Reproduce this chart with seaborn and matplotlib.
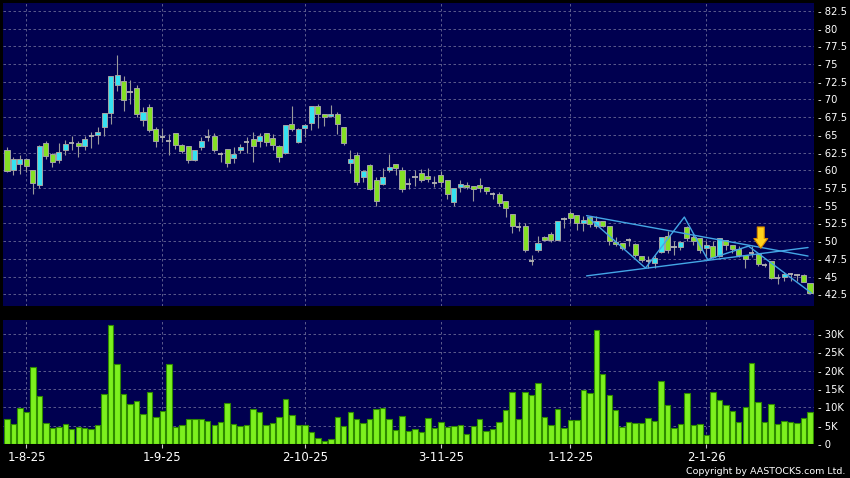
import numpy as np
import pandas as pd
import seaborn as sns
import matplotlib
matplotlib.use("Agg")
import matplotlib.pyplot as plt

# --- Data (volume in thousands of shares) ---
opens = [62.9, 60.1, 60.9, 61.6, 60.0, 57.9, 63.9, 62.3, 61.4, 62.8,
         63.8, 63.8, 63.4, 64.9, 65.0, 66.1, 68.1, 72.1, 72.6, 71.05,
         71.6, 67.1, 68.9, 65.8, 64.75, 64.1, 65.2, 63.6, 63.4, 61.5,
         63.3, 64.75, 64.9, 62.3, 63.0, 61.7, 62.9, 63.95, 64.4, 64.1,
         65.2, 64.5, 63.4, 62.4, 66.5, 64.05, 65.9, 66.6, 69.0, 67.9,
         67.6, 68.0, 66.1, 61.0, 62.2, 59.0, 60.7, 58.6, 58.05, 60.1,
         60.9, 60.0, 58.1, 59.1, 59.6, 59.2, 58.15, 59.4, 58.6, 55.5,
         57.6, 57.95, 57.75, 57.9, 57.7, 56.7, 56.6, 55.7, 53.8, 52.0,
         52.2, 47.2, 48.7, 50.6, 51.05, 50.2, 53.1, 53.95, 53.65, 52.55,
         53.4, 52.1, 52.8, 52.1, 49.9, 49.75, 50.1, 49.65, 47.9, 47.2,
         46.95, 48.5, 50.7, 49.2, 49.2, 51.95, 50.6, 50.45, 49.05, 49.3,
         47.9, 50.1, 49.45, 48.95, 48.0, 48.35, 48.2, 46.65, 47.2, 44.75,
         44.95, 45.3, 45.2, 45.2, 44.05]
highs = [63.3, 61.9, 62.1, 61.7, 60.0, 63.5, 64.2, 62.4, 63.9, 64.3,
         64.9, 64.2, 64.9, 65.35, 66.05, 68.1, 73.3, 76.2, 73.3, 72.8,
         72.0, 68.9, 69.3, 66.05, 65.95, 65.1, 65.3, 63.7, 63.4, 62.9,
         64.65, 65.8, 65.3, 62.6, 63.0, 63.3, 63.7, 64.75, 65.45, 65.2,
         65.2, 65.1, 63.5, 66.4, 69.1, 66.0, 66.5, 69.1, 69.3, 68.0,
         69.2, 68.2, 66.1, 62.9, 62.55, 60.0, 60.9, 59.0, 60.3, 62.3,
         60.9, 60.4, 58.9, 60.0, 60.2, 60.3, 59.2, 59.9, 58.6, 57.5,
         58.6, 58.3, 57.8, 58.9, 57.7, 56.9, 56.9, 55.7, 53.8, 52.7,
         52.6, 48.0, 50.7, 50.7, 51.3, 52.9, 53.4, 54.2, 53.7, 53.5,
         53.4, 53.6, 52.9, 52.1, 50.6, 49.8, 50.5, 49.7, 47.95, 47.9,
         48.1, 50.6, 51.4, 50.0, 50.0, 52.1, 51.15, 50.5, 50.0, 50.0,
         50.5, 50.1, 49.5, 49.3, 48.0, 49.3, 48.25, 46.9, 47.2, 45.3,
         45.6, 45.5, 45.3, 45.3, 44.1]
lows = [59.7, 59.3, 59.5, 59.7, 56.7, 57.5, 61.6, 60.5, 61.0, 62.1,
        62.8, 61.9, 62.8, 63.15, 63.7, 64.9, 66.5, 71.2, 68.4, 69.3,
        67.55, 66.3, 65.35, 63.3, 63.95, 62.1, 63.0, 62.4, 61.0, 61.3,
        62.8, 64.2, 62.6, 61.1, 60.4, 61.0, 62.5, 62.4, 61.2, 63.3,
        63.4, 62.9, 61.2, 62.3, 65.5, 63.9, 64.75, 65.7, 65.9, 66.3,
        67.5, 65.1, 63.5, 59.6, 57.95, 58.3, 57.25, 54.9, 57.95, 59.7,
        59.4, 56.9, 57.3, 57.8, 58.4, 58.4, 57.6, 57.6, 56.0, 54.9,
        56.9, 57.4, 55.6, 57.0, 56.7, 56.0, 55.0, 53.4, 51.1, 51.5,
        48.4, 46.6, 48.5, 50.0, 49.9, 50.1, 51.9, 52.5, 51.6, 51.5,
        52.0, 51.9, 52.0, 49.5, 49.3, 48.8, 49.3, 47.8, 47.05, 46.2,
        46.2, 48.35, 48.35, 48.0, 48.8, 50.0, 49.5, 48.35, 47.9, 47.65,
        47.8, 48.7, 48.35, 47.8, 46.25, 47.8, 46.5, 46.4, 44.6, 43.9,
        44.4, 44.4, 44.4, 44.2, 42.7]
closes = [59.9, 61.6, 61.6, 60.6, 58.2, 63.4, 62.0, 61.1, 62.6, 63.7,
          63.8, 63.4, 64.4, 64.9, 65.45, 68.1, 73.3, 73.4, 69.9, 71.05,
          67.9, 68.25, 65.7, 64.1, 64.75, 64.1, 63.5, 62.7, 61.4, 62.8,
          64.2, 64.75, 62.8, 62.3, 61.0, 62.3, 63.3, 63.95, 63.4, 64.9,
          64.05, 63.5, 61.9, 66.4, 65.8, 65.8, 66.4, 69.06, 67.9, 67.5,
          67.9, 66.5, 63.8, 61.6, 58.3, 59.9, 57.4, 55.7, 59.1, 60.4,
          60.3, 57.4, 58.1, 59.1, 58.6, 58.7, 58.15, 58.4, 56.7, 57.45,
          58.1, 57.6, 57.4, 57.5, 57.05, 56.7, 55.35, 54.7, 52.1, 52.0,
          48.8, 47.2, 49.75, 50.2, 50.1, 52.8, 53.1, 53.25, 52.5, 53.0,
          52.4, 52.8, 52.2, 50.0, 49.55, 49.05, 50.1, 48.1, 47.3, 47.2,
          47.65, 50.55, 48.75, 49.2, 49.9, 50.4, 50.0, 48.7, 49.5, 47.8,
          50.45, 49.45, 48.85, 48.05, 47.55, 48.35, 46.75, 46.65, 44.75, 44.75,
          45.4, 45.3, 45.2, 44.3, 42.75]
volumes_k = [6.75, 5.4, 9.9, 8.8, 20.9, 13.2, 5.8, 4.3, 4.5, 5.4,
             4.0, 4.7, 4.3, 4.0, 5.2, 13.7, 32.4, 21.9, 13.7, 10.9,
             11.6, 8.3, 14.1, 7.3, 9.1, 21.9, 4.65, 5.1, 6.7, 6.7,
             6.9, 6.3, 5.1, 6.1, 11.1, 5.5, 4.9, 5.3, 9.5, 8.85,
             5.1, 5.8, 7.3, 12.3, 7.8, 5.3, 5.3, 3.3, 1.55, 0.9,
             1.3, 7.4, 4.9, 8.7, 6.8, 5.75, 6.7, 9.6, 9.9, 6.75,
             3.8, 7.6, 3.6, 4.1, 3.4, 7.0, 4.3, 5.9, 4.6, 5.0,
             5.1, 2.6, 5.0, 6.75, 3.6, 4.2, 6.1, 9.2, 14.1, 6.75,
             14.3, 13.3, 16.5, 7.4, 5.3, 9.5, 4.3, 6.6, 6.6, 14.8,
             14.0, 31.2, 19.2, 13.3, 9.3, 4.6, 6.0, 5.75, 5.75, 7.0,
             6.3, 17.1, 10.5, 4.4, 5.5, 13.8, 5.3, 5.4, 2.5, 14.1,
             12.1, 10.7, 9.0, 5.9, 10.2, 22.0, 11.4, 6.1, 10.9, 5.5,
             6.4, 6.0, 5.7, 7.2, 8.6]

date_ticks = [3, 24, 46, 67, 87, 108]
date_labels = ["1-8-25", "1-9-25", "2-10-25", "3-11-25", "1-12-25", "2-1-26"]
price_ticks = [42.5, 45, 47.5, 50, 52.5, 55, 57.5, 60, 62.5, 65,
               67.5, 70, 72.5, 75, 77.5, 80, 82.5]
vol_ticks = [0, 5, 10, 15, 20, 25, 30]

# hand-drawn trend lines (bar index, price) and the signal arrow
upper_x, upper_y = [89.5, 123.7], [53.6, 47.9]
lower_x, lower_y = [89.5, 123.7], [45.1, 49.1]
zigzag_x = [89.7, 98.6, 104.6, 108.2, 114.5, 124.2]
zigzag_y = [53.4, 46.2, 53.4, 47.4, 49.3, 42.7]
arrow_x, arrow_top, arrow_tip = 116.4, 52.0, 49.0

# --- Colours ---
NAVY = "#000050"
GRID = "#6a6a96"
CYAN = "#36e2f2"
GREEN = "#84e024"
BODY_EDGE = "#a4a4a4"
WICK = "#9a9a9a"
DOJI = "#b4b4b4"
VOL_GREEN = "#7cf01e"
VOL_EDGE = "#2e8a00"
TREND = "#44a6e6"

sns.set_style("dark", {"axes.facecolor": NAVY, "figure.facecolor": "black"})
plt.rcParams["font.family"] = ["DejaVu Sans"]

df = pd.DataFrame({"bar": np.arange(len(opens)), "open": opens, "high": highs,
                   "low": lows, "close": closes, "volume": volumes_k})
up = df["close"] > df["open"]
down = df["close"] < df["open"]
flat = df["close"] == df["open"]

fig = plt.figure(figsize=(8.5, 4.78), dpi=100, facecolor="black")
ax_p = fig.add_axes([3 / 850, 1 - 306 / 478, 811 / 850, 303 / 478])
ax_v = fig.add_axes([3 / 850, 1 - 444 / 478, 811 / 850, 124 / 478])

# price candles
ax_p.vlines(df["bar"], df["low"], df["high"], color=WICK, lw=0.8, zorder=2)
ax_p.bar(df["bar"][up], (df["close"] - df["open"])[up], bottom=df["open"][up],
         width=0.78, color=CYAN, edgecolor=BODY_EDGE, linewidth=0.7, zorder=3)
ax_p.bar(df["bar"][down], (df["open"] - df["close"])[down], bottom=df["close"][down],
         width=0.78, color=GREEN, edgecolor=BODY_EDGE, linewidth=0.7, zorder=3)
ax_p.hlines(df["close"][flat], df["bar"][flat] - 0.4, df["bar"][flat] + 0.4,
            color=DOJI, lw=1.3, zorder=3)

ax_p.plot(upper_x, upper_y, color=TREND, lw=1.0, zorder=4)
ax_p.plot(lower_x, lower_y, color=TREND, lw=1.0, zorder=4)
ax_p.plot(zigzag_x, zigzag_y, color=TREND, lw=1.0, zorder=4)
ax_p.annotate("", xy=(arrow_x, arrow_tip), xytext=(arrow_x, arrow_top),
              arrowprops=dict(arrowstyle="simple,head_length=0.7,head_width=1.0,tail_width=0.5",
                              fc="#ffd21c", ec="#d88a00", lw=0.8, mutation_scale=10,
                              shrinkA=0, shrinkB=0), zorder=5)

# volume bars
sns.barplot(data=df, x="bar", y="volume", color=VOL_GREEN, saturation=1, width=0.84,
            edgecolor=VOL_EDGE, linewidth=0.8, errorbar=None, ax=ax_v)

for ax in (ax_p, ax_v):
    ax.set_xlim(-0.62, 124.62)
    ax.set_xlabel("")
    ax.set_ylabel("")
    ax.set_facecolor(NAVY)
    for s in ax.spines.values():
        s.set_visible(False)
    ax.set_axisbelow(True)
    ax.grid(True, color=GRID, linestyle=(0, (3, 3)), linewidth=0.6)
    ax.yaxis.tick_right()
    ax.tick_params(axis="y", length=0, pad=2.6, labelsize=7.2, labelcolor="white",
                   left=False, labelleft=False, right=True, labelright=True)

ax_p.set_ylim(40.85, 83.6)
ax_p.set_yticks(price_ticks, labels=[f"- {v:g}" for v in price_ticks])
ax_p.set_xticks(date_ticks)
ax_p.tick_params(axis="x", length=0, labelbottom=False)

ax_v.set_ylim(0, 33.8)
ax_v.set_yticks(vol_ticks, labels=["- 0"] + [f"- {v}K" for v in vol_ticks[1:]])
ax_v.set_xticks(date_ticks, labels=date_labels)
ax_v.tick_params(axis="x", length=3, width=0.8, color="#c8c8c8", pad=2,
                 labelsize=8.5, labelcolor="white", direction="out", bottom=True)

fig.text(0.994, 0.009, "Copyright by AASTOCKS.com Ltd.", ha="right", va="baseline",
         fontsize=6.8, color="white")

fig.savefig("out.png", dpi=100, facecolor="black")
